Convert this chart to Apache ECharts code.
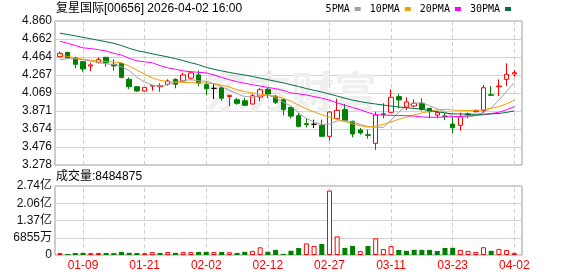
<!DOCTYPE html>
<html><head><meta charset="utf-8">
<script src="https://cdn.jsdelivr.net/npm/echarts@6/dist/echarts.min.js"></script>
<style>html,body{margin:0;padding:0;background:#fff}#c{width:578px;height:276px}</style>
</head><body><div id="c"></div>
<script>
const stockTitle = '复星国际[00656] 2026-04-02 16:00';
const volTitle = '成交量';
const watermark = '东方财富';
const dates = ['01-06','01-07','01-08','01-09','01-12','01-13','01-14','01-15','01-16','01-19','01-20','01-21','01-22','01-23','01-26','01-27','01-28','01-29','01-30',
  '02-02','02-03','02-04','02-05','02-06','02-09','02-10','02-11','02-12','02-13','02-16','02-20','02-23','02-24','02-25','02-26','02-27',
  '03-02','03-03','03-04','03-05','03-06','03-09','03-10','03-11','03-12','03-13','03-16','03-17','03-18','03-19','03-20','03-23','03-24','03-25','03-26','03-27','03-30','03-31',
  '04-01','04-02'];
const opens = [4.468,4.516,4.457,4.413,4.365,4.402,4.461,4.384,4.395,4.219,4.138,4.091,4.145,4.138,4.165,4.219,4.201,4.232,4.268,
  4.160,4.120,4.126,4.031,3.995,3.984,3.948,4.025,4.110,4.033,3.995,3.910,3.820,3.732,3.725,3.714,3.593,
  3.787,3.886,3.758,3.663,3.611,3.516,3.840,3.857,4.029,3.912,3.926,3.956,3.901,3.827,3.816,3.728,3.714,3.840,3.864,3.875,4.050,4.138,
  4.219,4.278];
const closes = [4.505,4.457,4.384,4.333,4.378,4.439,4.402,4.366,4.241,4.138,4.091,4.131,4.152,4.149,4.201,4.165,4.267,4.290,4.178,
  4.115,4.120,4.012,4.044,3.956,3.934,4.039,4.105,4.058,3.967,3.886,3.815,3.703,3.721,3.725,3.593,3.860,
  3.878,3.765,3.619,3.630,3.604,3.827,3.836,4.022,3.993,3.970,3.956,3.890,3.864,3.853,3.809,3.688,3.809,3.832,3.875,4.127,4.044,4.146,
  4.274,4.292];
const lows = [4.461,4.443,4.340,4.303,4.311,4.395,4.358,4.314,4.230,4.113,4.080,4.088,4.094,4.083,4.149,4.121,4.193,4.219,4.143,
  4.044,4.003,3.983,3.923,3.940,3.930,3.945,3.978,4.014,3.948,3.824,3.790,3.692,3.692,3.685,3.593,3.545,
  3.780,3.750,3.582,3.611,3.567,3.443,3.791,3.855,3.901,3.882,3.912,3.875,3.791,3.791,3.772,3.626,3.655,3.791,3.853,3.846,4.036,4.036,
  4.146,4.248];
const highs = [4.523,4.520,4.468,4.420,4.402,4.461,4.465,4.439,4.400,4.241,4.142,4.135,4.157,4.176,4.219,4.230,4.292,4.309,4.318,
  4.197,4.165,4.130,4.046,4.014,4.014,4.058,4.124,4.124,4.050,4.005,3.920,3.849,3.794,3.776,3.776,3.868,
  4.007,3.948,3.765,3.685,3.666,3.864,3.956,4.110,4.058,4.022,3.999,4.011,3.905,3.875,3.849,3.809,3.853,3.853,3.890,4.157,4.146,4.219,
  4.395,4.322];
const volumes = [7600000,4200000,7900000,8300000,7500000,8100000,8000000,7400000,12300000,8600000,7800000,7200000,11500000,7900000,11800000,8400000,11600000,11200000,12000000,
  12400000,11400000,12100000,11000000,8200000,12600000,16100000,30500000,12800000,20300000,4500000,16800000,27600000,46200000,36000000,43500000,256000000,
  74000000,28300000,36400000,16200000,35800000,66500000,24000000,35200000,20100000,16400000,20600000,20300000,20200000,16000000,28000000,28400000,20500000,16300000,12400000,30800000,16500000,24200000,
  20000000,8484875];
const ma5 = [4.435,4.446,4.446,4.435,4.418,4.403,4.389,4.382,4.360,4.315,4.240,4.190,4.155,4.146,4.163,4.184,4.206,4.215,4.204,
  4.197,4.172,4.140,4.100,4.060,4.030,4.022,4.043,4.044,4.016,3.968,3.926,3.850,3.790,3.748,3.721,3.728,
  3.762,3.765,3.752,3.722,3.700,3.692,3.692,3.770,3.860,3.928,3.955,3.964,3.930,3.895,3.860,3.812,3.805,3.809,3.820,3.860,3.905,3.990,
  4.090,4.182];
const ma10 = [4.490,4.470,4.455,4.440,4.430,4.422,4.415,4.410,4.400,4.365,4.320,4.275,4.235,4.208,4.195,4.190,4.186,4.182,4.179,
  4.178,4.172,4.155,4.135,4.105,4.085,4.070,4.058,4.046,4.035,4.010,3.980,3.935,3.895,3.860,3.830,3.805,
  3.780,3.755,3.730,3.710,3.694,3.705,3.725,3.750,3.780,3.805,3.828,3.850,3.866,3.885,3.888,3.882,3.878,3.876,3.878,3.886,3.900,3.920,
  3.950,3.990];
const ma20 = [4.637,4.615,4.590,4.565,4.557,4.545,4.530,4.505,4.485,4.450,4.422,4.412,4.400,4.370,4.345,4.330,4.312,4.303,4.296,
  4.290,4.268,4.240,4.215,4.193,4.176,4.160,4.146,4.130,4.117,4.097,4.070,4.060,4.047,4.030,4.012,3.990,
  3.960,3.935,3.910,3.885,3.855,3.830,3.826,3.824,3.822,3.820,3.815,3.806,3.802,3.803,3.806,3.809,3.812,3.818,3.824,3.830,3.842,3.858,
  3.885,3.920];
const ma30 = [4.726,4.712,4.697,4.680,4.665,4.648,4.632,4.615,4.590,4.560,4.535,4.518,4.500,4.482,4.466,4.446,4.425,4.402,4.380,
  4.350,4.330,4.312,4.295,4.280,4.267,4.250,4.233,4.215,4.198,4.180,4.160,4.140,4.118,4.098,4.080,4.058,
  4.035,4.012,3.990,3.975,3.960,3.948,3.937,3.925,3.915,3.907,3.900,3.890,3.875,3.862,3.850,3.840,3.838,3.836,3.835,3.836,3.840,3.844,
  3.856,3.872];
const maNames = ['5PMA','10PMA','20PMA','30PMA'];
const priceTicks = ['3.278','3.476','3.674','3.871','4.069','4.267','4.464','4.662','4.860'];
const volTicks = ['0','6855万','1.37亿','2.06亿','2.74亿'];
const volAxisMax = 274200000;
const labelDates = ['01-09','01-21','02-02','02-12','02-27','03-11','03-23','04-02'];

const ff = '"Liberation Sans", "Noto Sans CJK SC", sans-serif';
const pMin = +priceTicks[0], pMax = +priceTicks[priceTicks.length - 1];
const pInt = (pMax - pMin) / (priceTicks.length - 1);
const vInt = volAxisMax / (volTicks.length - 1);
const labelIdx = labelDates.map(d => dates.indexOf(d));
const xMin = -0.64, xMax = dates.length;

const UP = '#ff0000', DOWN = '#008000';
const candleData = dates.map((d, i) => {
  const it = { value: [i, opens[i], closes[i], lows[i], highs[i]] };
  if (opens[i] === closes[i]) it.itemStyle = { color: '#000', color0: '#000', borderColor: '#000', borderColor0: '#000' };
  return it;
});
const volData = volumes.map((v, i) => {
  const up = i === 0 ? closes[i] >= opens[i] : closes[i] >= closes[i - 1];
  return { value: [i, v], itemStyle: up ? { color: '#fff', borderColor: UP, borderWidth: 1 } : { color: DOWN, borderColor: DOWN, borderWidth: 0 } };
});
const vLines = labelIdx.map(i => ({ xAxis: i }));
const markLineOpt = { silent: true, symbol: ['none', 'none'], z: 1, label: { show: false },
  lineStyle: { color: '#cfcfcf', type: [4, 3], width: 1 }, data: vLines, animation: false };

const maColors = ['#a0a0a0', '#f0a000', '#ff00ff', '#007040'];
const maData = [ma5, ma10, ma20, ma30];

const chart = echarts.init(document.getElementById('c'), null, { renderer: 'canvas' });
chart.setOption({
  animation: false,
  textStyle: { fontFamily: ff },
  title: [
    { text: stockTitle, left: 56, top: 3, padding: 0, textStyle: { fontSize: 12, fontWeight: 'normal', color: '#000', fontFamily: ff } },
    { text: volTitle + ':' + volumes[volumes.length - 1], left: 56, top: 171, padding: 0, textStyle: { fontSize: 12, fontWeight: 'normal', color: '#000', fontFamily: ff } }
  ],
  legend: { data: maNames, right: 67, top: 4, padding: 0, itemGap: 9, itemWidth: 6, itemHeight: 4, align: 'right', icon: 'rect',
    textStyle: { fontSize: 10, color: '#000', fontFamily: '"DejaVu Sans Mono", "Liberation Mono", monospace' } },
  graphic: [{ type: 'text', left: 205, top: 70, z: 1, silent: true,
    style: { text: watermark, fontSize: 43, fontWeight: 'bold', fill: '#efefef', fontFamily: '"Noto Sans CJK SC", sans-serif' } }],
  grid: [
    { left: 55, top: 21, width: 467, height: 144, show: true, borderColor: '#999', borderWidth: 1 },
    { left: 55, top: 186, width: 467, height: 69, show: true, borderColor: '#999', borderWidth: 1 }
  ],
  xAxis: [
    { type: 'value', gridIndex: 0, min: xMin, max: xMax, axisLine: { show: false }, axisTick: { show: false }, axisLabel: { show: false }, splitLine: { show: false } },
    { type: 'value', gridIndex: 1, min: xMin, max: xMax, axisLine: { show: false }, axisTick: { show: false }, splitLine: { show: false },
      axisLabel: { show: true, customValues: labelIdx, formatter: v => dates[Math.round(v)], color: '#ff0000', fontSize: 12, margin: 5, fontFamily: ff } }
  ],
  yAxis: [
    { type: 'value', gridIndex: 0, min: pMin, max: pMax, interval: pInt, axisLine: { show: false }, axisTick: { show: false },
      axisLabel: { fontSize: 12, color: '#111', margin: 3, fontFamily: ff, formatter: v => priceTicks[Math.round((v - pMin) / pInt)] },
      splitLine: { lineStyle: { color: '#d2d2d2', width: 1 } } },
    { type: 'value', gridIndex: 1, min: 0, max: volAxisMax, interval: vInt, axisLine: { show: false }, axisTick: { show: false },
      axisLabel: { fontSize: 12, color: '#111', margin: 3, fontFamily: ff, formatter: v => volTicks[Math.round(v / vInt)] },
      splitLine: { lineStyle: { color: '#d2d2d2', width: 1 } } }
  ],
  series: [
    { type: 'candlestick', name: 'K', xAxisIndex: 0, yAxisIndex: 0, barWidth: 5, data: candleData, z: 2,
      itemStyle: { color: '#fff', color0: DOWN, borderColor: UP, borderColor0: DOWN, borderColorDoji: '#000', borderWidth: 1 },
      markLine: markLineOpt },
    ...maNames.map((n, k) => ({ type: 'line', name: n, xAxisIndex: 0, yAxisIndex: 0, data: maData[k].map((v, i) => [i, v]),
      showSymbol: false, symbol: 'none', z: 3, lineStyle: { width: 1, color: maColors[k] }, itemStyle: { color: maColors[k] } })),
    { type: 'bar', name: 'VOL', xAxisIndex: 1, yAxisIndex: 1, barWidth: 5, data: volData, z: 2, markLine: markLineOpt }
  ]
});
</script></body></html>
